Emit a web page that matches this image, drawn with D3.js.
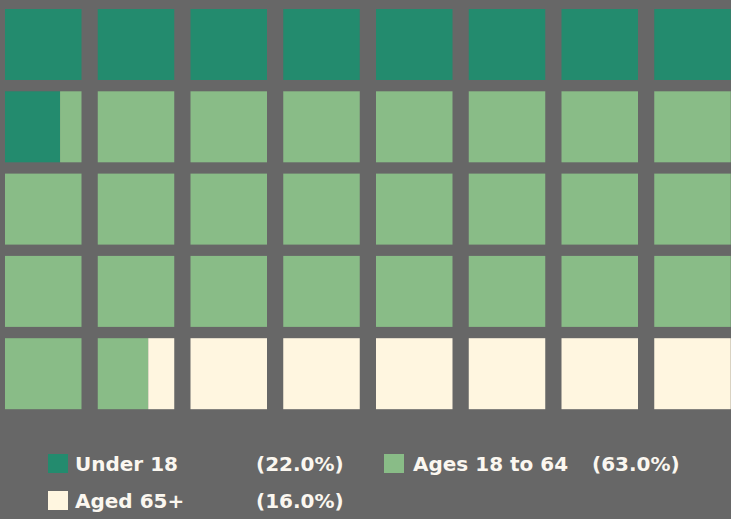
<!DOCTYPE html>
<html>
<head>
<meta charset="utf-8">
<script src="https://cdn.jsdelivr.net/npm/d3@7"></script>
<style>
  body { margin: 0; background: #676767; }
  svg { display: block; }
  .legend text { font-family: "DejaVu Sans", sans-serif; font-weight: bold; fill: #fbf7f0; }
</style>
</head>
<body>
<svg id="chart" width="731" height="519"></svg>
<script>
// waffle values (share of 40 cells, as drawn) and legend labels
const groups = ["Under 18", "Ages 18 to 64", "Aged 65+"];
const values = [21.8, 62.35, 15.85];
const pctLabels = ["(22.0%)", "(63.0%)", "(16.0%)"];
const colors = ["#238b6e", "#89bc87", "#fff6e0"];

const nCols = 8, nRows = 5;
const svg = d3.select("#chart");

const x = d3.scaleLinear().domain([0, 1]).range([5, 97.75]);
const y = d3.scaleLinear().domain([0, 1]).range([9, 91.3]);
const cellW = 76.5, cellH = 71;
const inner = d3.scaleLinear().domain([0, 1]).range([0, cellW]);

const unit = 100 / (nCols * nRows);
let acc = 0;
const bounds = values.map((v, i) => {
  const b = { key: groups[i], color: colors[i], start: acc / unit, end: (acc + v) / unit };
  acc += v;
  return b;
});

// one segment per group overlapping each cell
let segs = [];
d3.range(nCols * nRows).forEach((k) => {
  bounds.forEach((b) => {
    const s = Math.max(k, b.start), e = Math.min(k + 1, b.end);
    if (e > s) segs.push({ k, s: s - k, e: e - k, color: b.color });
  });
});

svg.append("g").selectAll("rect")
  .data(segs)
  .enter().append("rect")
  .attr("x", (d) => x(d.k % nCols) + inner(d.s))
  .attr("y", (d) => y(Math.floor(d.k / nCols)))
  .attr("width", (d) => inner(d.e) - inner(d.s))
  .attr("height", cellH)
  .attr("fill", (d) => d.color);

// legend
const legendItems = [
  { i: 0, sx: 48, tx: 75, px: 256, y: 464 },
  { i: 1, sx: 384, tx: 413, px: 592, y: 464 },
  { i: 2, sx: 48, tx: 75, px: 256, y: 501 }
];
const legend = svg.append("g").attr("class", "legend");
const li = legend.selectAll("g").data(legendItems).enter().append("g");
li.append("rect")
  .attr("x", (d) => d.sx)
  .attr("y", (d) => d.y - 10)
  .attr("width", 20)
  .attr("height", 19)
  .attr("fill", (d) => colors[d.i]);
li.append("text")
  .attr("x", (d) => d.tx)
  .attr("y", (d) => d.y + 7)
  .style("font-size", "20px")
  .text((d) => groups[d.i]);
li.append("text")
  .attr("x", (d) => d.px)
  .attr("y", (d) => d.y + 7)
  .style("font-size", "20px")
  .text((d) => pctLabels[d.i]);
</script>
</body>
</html>
